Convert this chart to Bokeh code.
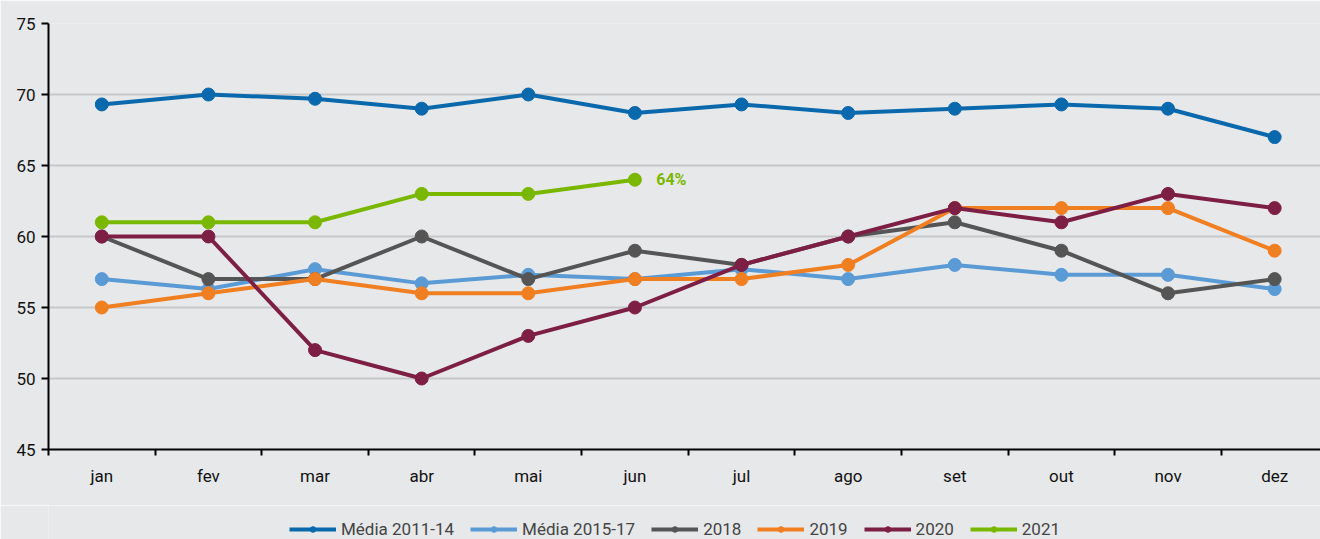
from bokeh.plotting import figure
from bokeh.layouts import column
from bokeh.models import Range1d, FixedTicker, Legend, LegendItem, ColumnDataSource
from bokeh.core.properties import value
from bokeh.embed import file_html
from bokeh.resources import INLINE

months = ["jan", "fev", "mar", "abr", "mai", "jun", "jul", "ago", "set", "out", "nov", "dez"]
media_2011_14 = [69.3, 70.0, 69.7, 69.0, 70.0, 68.7, 69.3, 68.7, 69.0, 69.3, 69.0, 67.0]
media_2015_17 = [57.0, 56.3, 57.7, 56.7, 57.3, 57.0, 57.7, 57.0, 58.0, 57.3, 57.3, 56.3]
y2018 = [60, 57, 57, 60, 57, 59, 58, 60, 61, 59, 56, 57]
y2019 = [55, 56, 57, 56, 56, 57, 57, 58, 62, 62, 62, 59]
y2020 = [60, 60, 52, 50, 53, 55, 58, 60, 62, 61, 63, 62]
y2021 = [61, 61, 61, 63, 63, 64]
series_names = ["Média 2011-14", "Média 2015-17", "2018", "2019", "2020", "2021"]
series_values = [media_2011_14, media_2015_17, y2018, y2019, y2020, y2021]
colors = ["#0a68ad", "#5b9bd5", "#555555", "#f07f22", "#7d1f45", "#7ab800"]
annotation_text = "64%"

FONT = "Roboto"
BG = "#e7e8ea"

p = figure(frame_width=1272, frame_height=426, output_backend="svg", toolbar_location=None,
           x_range=Range1d(0, 11.93), y_range=Range1d(45, 75),
           min_border_left=48, min_border_right=0, min_border_top=23, min_border_bottom=56)
p.background_fill_color = BG
p.border_fill_color = BG
p.outline_line_color = None

centers = [i + 0.5 for i in range(len(months))]

for name, vals, c in zip(series_names, series_values, colors):
    src = ColumnDataSource(dict(x=centers[:len(vals)], y=vals))
    p.line("x", "y", source=src, line_color=c, line_width=4)
    p.scatter("x", "y", source=src, size=13, fill_color=c, line_color=c)

last_idx = len(y2021) - 1
p.text(x=[centers[last_idx] + 0.2], y=[y2021[last_idx]], text=[annotation_text],
       text_color=colors[-1], text_font=value(FONT), text_font_style="bold",
       text_font_size="16px", text_baseline="middle", text_align="left")

# x axis
p.xaxis.ticker = FixedTicker(ticks=centers, minor_ticks=list(range(0, 13)))
p.xaxis.major_label_overrides = {c: m for c, m in zip(centers, months)}
p.xaxis.major_tick_out = 0
p.xaxis.major_tick_in = 0
p.xaxis.minor_tick_out = 6
p.xaxis.minor_tick_in = 0
p.xaxis.minor_tick_line_color = "black"
p.xaxis.minor_tick_line_width = 2
p.xaxis.axis_line_color = "black"
p.xaxis.axis_line_width = 2
p.xaxis.major_label_text_font = FONT
p.xaxis.major_label_text_font_size = "17px"
p.xaxis.major_label_text_color = "#111111"
p.xaxis.major_label_standoff = 10

# y axis
p.yaxis.ticker = FixedTicker(ticks=[45, 50, 55, 60, 65, 70, 75], minor_ticks=[])
p.yaxis.major_tick_out = 7
p.yaxis.major_tick_in = 0
p.yaxis.major_tick_line_color = "black"
p.yaxis.major_tick_line_width = 2
p.yaxis.axis_line_color = "black"
p.yaxis.axis_line_width = 2
p.yaxis.minor_tick_line_color = None
p.yaxis.major_label_text_font = FONT
p.yaxis.major_label_text_font_size = "17px"
p.yaxis.major_label_text_color = "#111111"
p.yaxis.major_label_standoff = 6

p.xgrid.grid_line_color = None
p.ygrid.ticker = FixedTicker(ticks=[50, 55, 60, 65, 70, 75])
p.ygrid.grid_line_color = "#c6c7c9"
p.ygrid.grid_line_width = 2

# legend strip below the chart (series drawn off-range so only legend shows)
lg = figure(width=1320, height=34, output_backend="svg", toolbar_location=None,
            x_range=Range1d(0, 11.93), y_range=Range1d(0, 1),
            x_axis_location=None, y_axis_location=None,
            min_border_left=0, min_border_right=0, min_border_top=0, min_border_bottom=0)
lg.background_fill_color = BG
lg.border_fill_color = BG
lg.outline_line_color = None
lg.xgrid.grid_line_color = None
lg.ygrid.grid_line_color = None

items = []
for name, vals, c in zip(series_names, series_values, colors):
    src = ColumnDataSource(dict(x=centers[:len(vals)], y=vals))
    r1 = lg.line("x", "y", source=src, line_color=c, line_width=4)
    r2 = lg.scatter("x", "y", source=src, size=13, fill_color=c, line_color=c)
    items.append(LegendItem(label=name, renderers=[r1, r2]))

legend = Legend(items=items, orientation="horizontal", location=(241, 0),
                label_text_font=FONT, label_text_font_size="17px",
                label_text_color="#444444", glyph_width=47, glyph_height=14,
                spacing=16, label_standoff=5, background_fill_alpha=0,
                border_line_color=None, margin=0, padding=2)
lg.add_layout(legend, "center")

layout = column(p, lg, spacing=0)
open("out.html", "w").write(file_html(layout, INLINE))
